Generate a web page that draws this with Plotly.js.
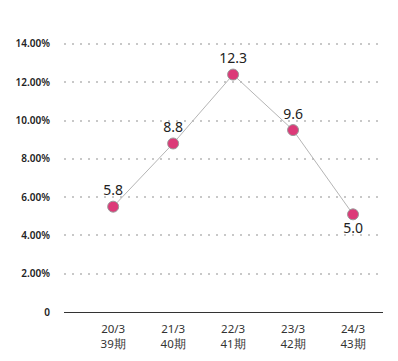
<!DOCTYPE html>
<html>
<head>
<meta charset="utf-8">
<script src="https://cdn.plot.ly/plotly-3.0.1.min.js"></script>
<style>html,body{margin:0;padding:0;background:#fff}#chart{width:398px;height:361px}</style>
</head>
<body>
<div id="chart"></div>
<script>
var categories = ['20/3<br>39期', '21/3<br>40期', '22/3<br>41期', '23/3<br>42期', '24/3<br>43期'];
var values = [5.5, 8.8, 12.4, 9.5, 5.1];
var valueLabels = ['5.8', '8.8', '12.3', '9.6', '5.0'];
var labelPositions = ['top center', 'top center', 'top center', 'top center', 'bottom center'];
var yTickVals = [0, 2, 4, 6, 8, 10, 12, 14];
var yTickText = ['0', '2.00%', '4.00%', '6.00%', '8.00%', '10.00%', '12.00%', '14.00%'];

var xIdx = categories.map(function (c, i) { return i; });

var trace = {
  x: xIdx,
  y: values,
  type: 'scatter',
  mode: 'lines+markers+text',
  text: valueLabels,
  textposition: labelPositions,
  textfont: {family: 'Noto Sans, sans-serif', size: 14, color: '#222'},
  line: {color: '#b5b5b5', width: 1},
  marker: {size: 11, color: '#dc3a78', line: {color: '#9a9a9a', width: 1}},
  cliponaxis: false,
  hoverinfo: 'none'
};

var layout = {
  width: 398,
  height: 361,
  margin: {l: 64, r: 15, t: 42, b: 49},
  paper_bgcolor: '#fff',
  plot_bgcolor: '#fff',
  showlegend: false,
  font: {family: 'Noto Sans, sans-serif', color: '#222'},
  xaxis: {
    range: [-0.82, 4.5],
    tickvals: xIdx,
    ticktext: categories,
    showgrid: false,
    zeroline: false,
    showline: true,
    linecolor: '#333',
    linewidth: 1,
    ticks: 'outside',
    ticklen: 6,
    tickcolor: 'rgba(0,0,0,0)',
    tickfont: {size: 11.5, color: '#333'},
    fixedrange: true
  },
  yaxis: {
    range: [0, 14.1],
    tickvals: yTickVals,
    ticktext: yTickText,
    showgrid: true,
    gridcolor: '#c8c8c8',
    gridwidth: 2,
    griddash: '2px,6px',
    zeroline: false,
    showline: false,
    ticks: 'outside',
    ticklen: 11,
    tickcolor: 'rgba(0,0,0,0)',
    tickfont: {size: 10, color: '#222', weight: 600},
    fixedrange: true
  }
};

Plotly.newPlot('chart', [trace], layout, {displayModeBar: false, staticPlot: true});
</script>
</body>
</html>
